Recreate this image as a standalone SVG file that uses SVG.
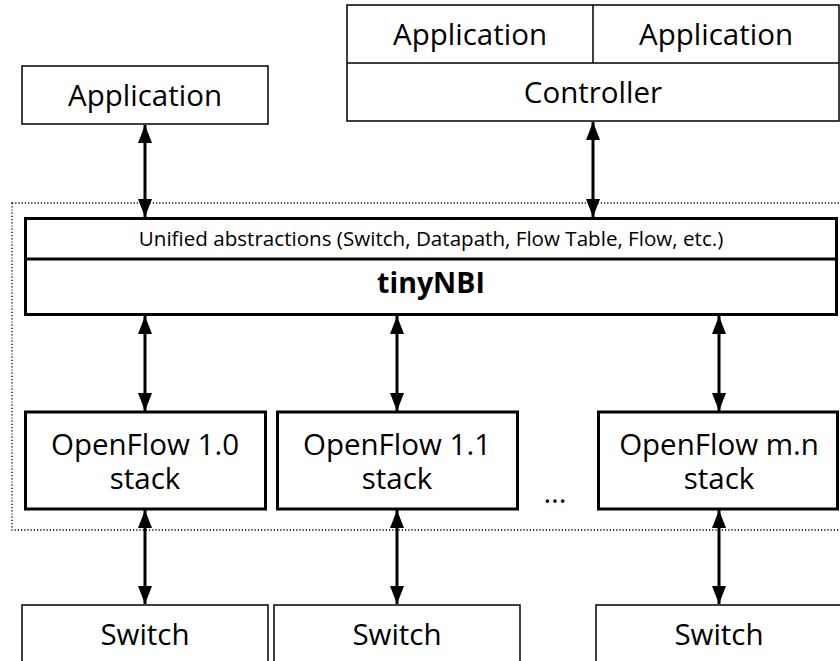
<svg xmlns="http://www.w3.org/2000/svg" width="840" height="661" viewBox="0 0 840 661">
  <style>
    .box { fill: #fff; stroke: #000; stroke-width: 1.5; }
    .thick { fill: #fff; stroke: #000; stroke-width: 3; }
    .lbl { font-family: "Open Sans", "Noto Sans", sans-serif; font-size: 29.5px; fill: #000; text-anchor: middle; }
    .small { font-size: 20.6px; }
    .bold { font-weight: bold; font-size: 28.5px; }
    .link { stroke: #000; stroke-width: 3; fill: none; marker-start: url(#ah); marker-end: url(#ah); }
    .frame { fill: none; stroke: #000; stroke-width: 1.3; stroke-dasharray: 1.2 2; }
  </style>
  <defs>
    <marker id="ah" markerUnits="userSpaceOnUse" markerWidth="18" markerHeight="14" refX="18" refY="7" orient="auto-start-reverse">
      <path d="M0,0 L18,7 L0,14 z" fill="#000"/>
    </marker>
  </defs>
  <rect width="840" height="661" fill="#fff"/>

  <!-- tinyNBI boundary -->
  <rect class="frame" x="12" y="203" width="840" height="327"/>

  <g id="app-left">
    <rect class="box" x="22" y="66" width="246" height="58"/>
    <text class="lbl" x="145" y="106">Application</text>
  </g>

  <g id="controller">
    <rect class="box" x="347" y="5" width="492" height="116"/>
    <line x1="347" y1="63" x2="839" y2="63" stroke="#000" stroke-width="1.5"/>
    <line x1="593" y1="5" x2="593" y2="63" stroke="#000" stroke-width="1.5"/>
    <text class="lbl" x="470" y="45">Application</text>
    <text class="lbl" x="716" y="45">Application</text>
    <text class="lbl" x="593" y="103">Controller</text>
  </g>

  <g id="tinynbi">
    <rect class="thick" x="25.5" y="218.5" width="811" height="96"/>
    <line x1="25.5" y1="259" x2="836.5" y2="259" stroke="#000" stroke-width="3"/>
    <text class="lbl small" x="431" y="246">Unified abstractions (Switch, Datapath, Flow Table, Flow, etc.)</text>
    <text class="lbl bold" x="431" y="293">tinyNBI</text>
  </g>

  <g id="of10">
    <rect class="thick" x="25.5" y="412" width="240" height="97"/>
    <text class="lbl" x="145" y="455">OpenFlow 1.0<tspan x="145" dy="34">stack</tspan></text>
  </g>
  <g id="of11">
    <rect class="thick" x="277.5" y="412" width="240" height="97"/>
    <text class="lbl" x="397" y="455">OpenFlow 1.1<tspan x="397" dy="34">stack</tspan></text>
  </g>
  <g id="ofmn">
    <rect class="thick" x="598.5" y="412" width="239" height="97"/>
    <text class="lbl" x="719" y="455">OpenFlow m.n<tspan x="719" dy="34">stack</tspan></text>
  </g>
  <text class="lbl" x="555" y="503">...</text>

  <g id="sw1">
    <rect class="box" x="22" y="605" width="246" height="70"/>
    <text class="lbl" x="145" y="645">Switch</text>
  </g>
  <g id="sw2">
    <rect class="box" x="274" y="605" width="246" height="70"/>
    <text class="lbl" x="397" y="645">Switch</text>
  </g>
  <g id="sw3">
    <rect class="box" x="596" y="605" width="246" height="70"/>
    <text class="lbl" x="719" y="645">Switch</text>
  </g>

  <g id="connectors">
    <line class="link" x1="145" y1="125" x2="145" y2="217"/>
    <line class="link" x1="593" y1="122" x2="593" y2="217"/>
    <line class="link" x1="145" y1="316" x2="145" y2="411"/>
    <line class="link" x1="397" y1="316" x2="397" y2="411"/>
    <line class="link" x1="719" y1="316" x2="719" y2="411"/>
    <line class="link" x1="145" y1="510" x2="145" y2="604"/>
    <line class="link" x1="397" y1="510" x2="397" y2="604"/>
    <line class="link" x1="719" y1="510" x2="719" y2="604"/>
  </g>
</svg>
